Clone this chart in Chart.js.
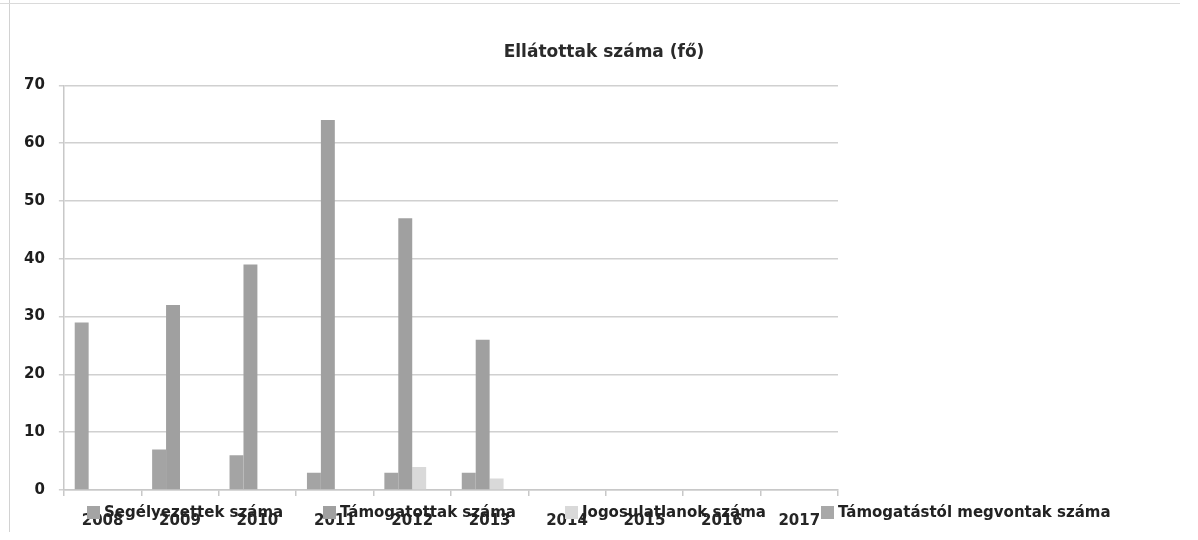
<!DOCTYPE html>
<html lang="hu">
<head>
<meta charset="UTF-8">
<title>Ellátottak száma (fő)</title>
<script src="https://cdn.jsdelivr.net/npm/chart.js"></script>
<style>
  html, body { margin: 0; padding: 0; background: #fff; }
  #wrap { position: relative; width: 1198px; height: 540px; }
  .edge-left { position: absolute; left: 9px; top: 0; height: 532px; border-left: 1px solid #d2d2d2; }
  .edge-top { position: absolute; left: 0; top: 3px; width: 1180px; border-top: 1px solid #dadada; }
</style>
</head>
<body>
<div id="wrap">
  <canvas id="chart" width="1198" height="540"></canvas>
  <div class="edge-left"></div>
  <div class="edge-top"></div>
</div>
<script>
// --- data ---
const years = ['2008', '2009', '2010', '2011', '2012', '2013', '2014', '2015', '2016', '2017'];
const segelyezettek = [29, 7, 6, 3, 3, 3, 0, 0, 0, 0];
const tamogatottak = [0, 32, 39, 64, 47, 26, 0, 0, 0, 0];
const jogosulatlanok = [0, 0, 0, 0, 4, 2, 0, 0, 0, 0];
const megvontak = [0, 0, 0, 0, 0, 0, 0, 0, 0, 0];
const seriesNames = ['Segélyezettek száma', 'Támogatottak száma', 'Jogosulatlanok száma', 'Támogatástól megvontak száma'];
const yMax = 70;
const yStep = 10;

const FONT = '"DejaVu Sans", Verdana, sans-serif';
const legendX = [87, 323, 565, 821];   // left edge of each legend swatch

// legend sits on top of the year labels like in the scanned original
const bottomLegend = {
    id: 'bottomLegend',
    afterDraw(chart) {
        const ctx = chart.ctx;
        ctx.save();
        ctx.font = 'bold 15px ' + FONT;
        ctx.textBaseline = 'middle';
        chart.data.datasets.forEach((ds, i) => {
            const x = legendX[i];
            ctx.fillStyle = ds.backgroundColor;
            ctx.fillRect(x, 506, 13, 13);
            ctx.fillStyle = '#222';
            ctx.fillText(ds.label, x + 17, 513);
        });
        ctx.restore();
    }
};

new Chart(document.getElementById('chart').getContext('2d'), {
    type: 'bar',
    data: {
        labels: years,
        datasets: [
            { label: seriesNames[0], data: segelyezettek, backgroundColor: '#a4a4a4' },
            { label: seriesNames[1], data: tamogatottak, backgroundColor: '#a0a0a0' },
            { label: seriesNames[2], data: jogosulatlanok, backgroundColor: '#d9d9d9' },
            { label: seriesNames[3], data: megvontak, backgroundColor: '#a8a8a8' }
        ]
    },
    options: {
        responsive: false,
        animation: false,
        categoryPercentage: 0.72,
        barPercentage: 1.0,
        layout: { padding: { left: 10, top: 0, bottom: 0, right: 0 } },
        plugins: {
            legend: { display: false },
            tooltip: { enabled: false },
            title: {
                display: true,
                text: 'Ellátottak száma (fő)',
                color: '#2a2a2a',
                font: { family: FONT, size: 17, weight: 'bold' },
                padding: { top: 42, bottom: 23 }
            }
        },
        scales: {
            x: {
                grid: { display: true, drawOnChartArea: false, drawTicks: true, tickLength: 6, color: '#c8c8c8', lineWidth: 1.5, offset: true },
                border: { display: true, color: '#c8c8c8', width: 1.5 },
                ticks: { color: '#262626', font: { family: FONT, size: 15, weight: 'bold' }, padding: 16, maxRotation: 0 },
                afterFit: (scale) => { scale.height = 50; }
            },
            y: {
                min: 0,
                max: yMax,
                ticks: { stepSize: yStep, color: '#1e1e1e', font: { family: FONT, size: 15, weight: 'bold' }, padding: 14 },
                grid: { color: '#d0d0d0', lineWidth: 1.5, tickLength: 5 },
                border: { display: true, color: '#c8c8c8', width: 1.5 }
            },
            // empty right axis only reserves the blank space right of the plot
            spacer: {
                type: 'linear',
                position: 'right',
                display: true,
                grid: { display: false },
                border: { display: false },
                ticks: { display: false },
                afterFit: (scale) => { scale.width = 360; }
            }
        }
    },
    plugins: [bottomLegend]
});
</script>
</body>
</html>
